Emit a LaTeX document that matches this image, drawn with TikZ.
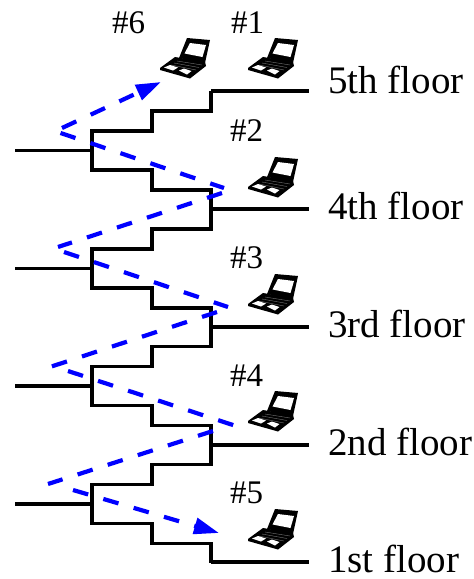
\documentclass[tikz,border=0pt]{standalone}
\usepackage{fontspec}
\setmainfont{Liberation Serif}
\usetikzlibrary{arrows.meta}
\definecolor{netblue}{RGB}{0,0,255}
\tikzset{
  wire/.style={line width=3.7pt,black,line join=miter,line cap=butt},
  hop/.style={line width=4.2pt,netblue,dash pattern=on 15.8pt off 15.8pt},
  hoparrow/.style={hop,-{Triangle[length=25pt,width=16pt,fill=netblue]}},
  floorlabel/.style={anchor=base west,inner sep=0pt,font=\fontsize{39}{39}\selectfont},
  hostlabel/.style={anchor=base west,inner sep=0pt,font=\fontsize{33}{33}\selectfont},
  laptop/.pic={
    \fill[black] (35,8) -- (58,10) -- (53,33) -- (27,28) -- cycle;
    \fill[white] (38,13) -- (54,15) -- (50.5,27) -- (32.5,23.5) -- cycle;
    \fill[black] (8,38) -- (23,27) -- (53,32) -- (54,36) -- (38,48.5) -- (8,40) -- cycle;
    \draw[white,line width=0.4pt,opacity=.45] (22,33) -- (47,37.5) (19,35) -- (44,40) (25,31) -- (50,35);
    \fill[white] (12,37.5) -- (18,35) -- (26,37.5) -- (21,40.5) -- cycle;
    \fill[white] (27,40.5) -- (32,38.5) -- (39.5,41) -- (35,44.5) -- cycle;
  }
}
\begin{document}
\begin{tikzpicture}[x=1pt,y=-1pt]
\useasboundingbox (0,0) rectangle (474,579);
% five floor lines with risers
\coordinate (f5) at (211,91);  \coordinate (e5) at (309,91);
\coordinate (f4) at (211,209); \coordinate (e4) at (309,209);
\coordinate (f3) at (211,327); \coordinate (e3) at (309,327);
\coordinate (f2) at (211,445); \coordinate (e2) at (309,445);
\coordinate (f1) at (211,562); \coordinate (e1) at (309,562);
\foreach \a/\b in {f5/e5,f4/e4,f3/e3,f2/e2,f1/e1}{\draw[wire] (\a) -- (\b);}
\foreach \s in {150.5,268.5,386,504}{
  \draw[wire] (15,\s) -- (92,\s);
  \draw[wire] (211,\s-59.5) -- (211,\s-39.5) -- (152,\s-39.5) -- (152,\s-19.5) -- (92,\s-19.5)
     -- (92,\s+19.5) -- (152,\s+19.5) -- (152,\s+39.5) -- (211,\s+39.5) -- (211,\s+59);
}
% hop path
\coordinate (a0) at (62,128);   \coordinate (a1) at (161,82);
\coordinate (b0) at (60.5,133); \coordinate (b1) at (224,188);
\coordinate (c0) at (222,193);  \coordinate (c1) at (58,247);
\coordinate (d0) at (64,252);   \coordinate (d1) at (228,307);
\coordinate (e0) at (217,312);  \coordinate (e9) at (50,367);
\coordinate (g0) at (68,371);   \coordinate (g1) at (236,426);
\coordinate (h0) at (213,431);  \coordinate (h1) at (48,484);
\coordinate (i0) at (73,490);   \coordinate (i1) at (219,533);
\draw[hoparrow] (a0) -- (a1);
\draw[hop] (b0) -- (b1);
\draw[hop] (c0) -- (c1);
\draw[hop] (d0) -- (d1);
\draw[hop] (e0) -- (e9);
\draw[hop] (g0) -- (g1);
\draw[hop] (h0) -- (h1);
\draw[hoparrow] (i0) -- (i1);
% laptops
\pic at (240,30) {laptop};
\pic at (152,30) {laptop};
\pic at (240,149) {laptop};
\pic at (240,266) {laptop};
\pic at (240,383) {laptop};
\pic at (240,501) {laptop};
% labels
\node[hostlabel] (n1) at (231,33) {\#1};
\node[hostlabel] (n6) at (112,33) {\#6};
\node[hostlabel] (n2) at (230,141) {\#2};
\node[hostlabel] (n3) at (230,268) {\#3};
\node[hostlabel] (n4) at (230,386) {\#4};
\node[hostlabel] (n5) at (230,503) {\#5};
\node[floorlabel] (l5) at (328,93) {5th floor};
\node[floorlabel] (l4) at (328,219) {4th floor};
\node[floorlabel] (l3) at (328,337) {3rd floor};
\node[floorlabel] (l2) at (328,455) {2nd floor};
\node[floorlabel] (l1) at (328,572) {1st floor};
\end{tikzpicture}
\end{document}
